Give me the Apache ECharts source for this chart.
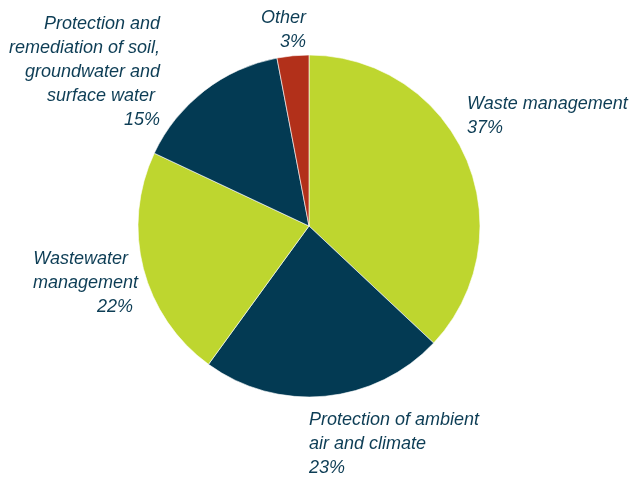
<!DOCTYPE html>
<html>
<head>
    <meta charset="utf-8">
    <title>Environmental protection expenditure</title>
    <script src="https://cdn.jsdelivr.net/npm/echarts@6/dist/echarts.min.js"></script>
    <style>
        body { margin: 0; background: #fff; }
    </style>
</head>
<body>
    <div id="main" style="width:631px;height:478px;"></div>
    <script type="text/javascript">
        // data
        var categories = [
            'Waste management',
            'Protection of ambient\nair and climate',
            'Wastewater  \nmanagement',
            'Protection and\nremediation of soil,\ngroundwater and\nsurface water ',
            'Other'
        ];
        var shares = [37, 23, 22, 15, 3];
        var colors = ['#bed62f', '#033a53', '#bed62f', '#033a53', '#b2301a'];

        // where each label sits (anchor x, top y, alignment)
        var labelSpots = [
            { x: 467, y: 92, align: 'left', pad: '' },
            { x: 309, y: 408, align: 'left', pad: '' },
            { x: 138, y: 247, align: 'right', pad: ' ' },
            { x: 160, y: 12, align: 'right', pad: '' },
            { x: 306, y: 6, align: 'right', pad: '' }
        ];

        var myChart = echarts.init(document.getElementById('main'));

        var pieData = [];
        for (var i = 0; i < categories.length; i++) {
            pieData.push({
                name: categories[i],
                value: shares[i],
                itemStyle: { color: colors[i] }
            });
        }

        var option = {
            animation: false,
            series: [{
                name: 'Share',
                type: 'pie',
                center: [309, 226],
                radius: 171,
                startAngle: 90,
                clockwise: true,
                data: pieData,
                itemStyle: {
                    borderColor: '#ffffff',
                    borderWidth: 0.6
                },
                label: {
                    show: true,
                    position: 'outside',
                    formatter: function (p) {
                        return p.name + '\n' + p.value + '%' + labelSpots[p.dataIndex].pad;
                    },
                    fontFamily: 'Liberation Sans',
                    fontStyle: 'italic',
                    fontSize: 18,
                    lineHeight: 24,
                    color: '#0d3d55',
                    overflow: 'none',
                    width: 300
                },
                labelLine: { show: false },
                labelLayout: function (params) {
                    var s = labelSpots[params.dataIndex];
                    return {
                        x: s.x,
                        y: s.y,
                        align: s.align,
                        verticalAlign: 'top',
                        hideOverlap: false
                    };
                }
            }]
        };

        myChart.setOption(option);
    </script>
</body>
</html>
